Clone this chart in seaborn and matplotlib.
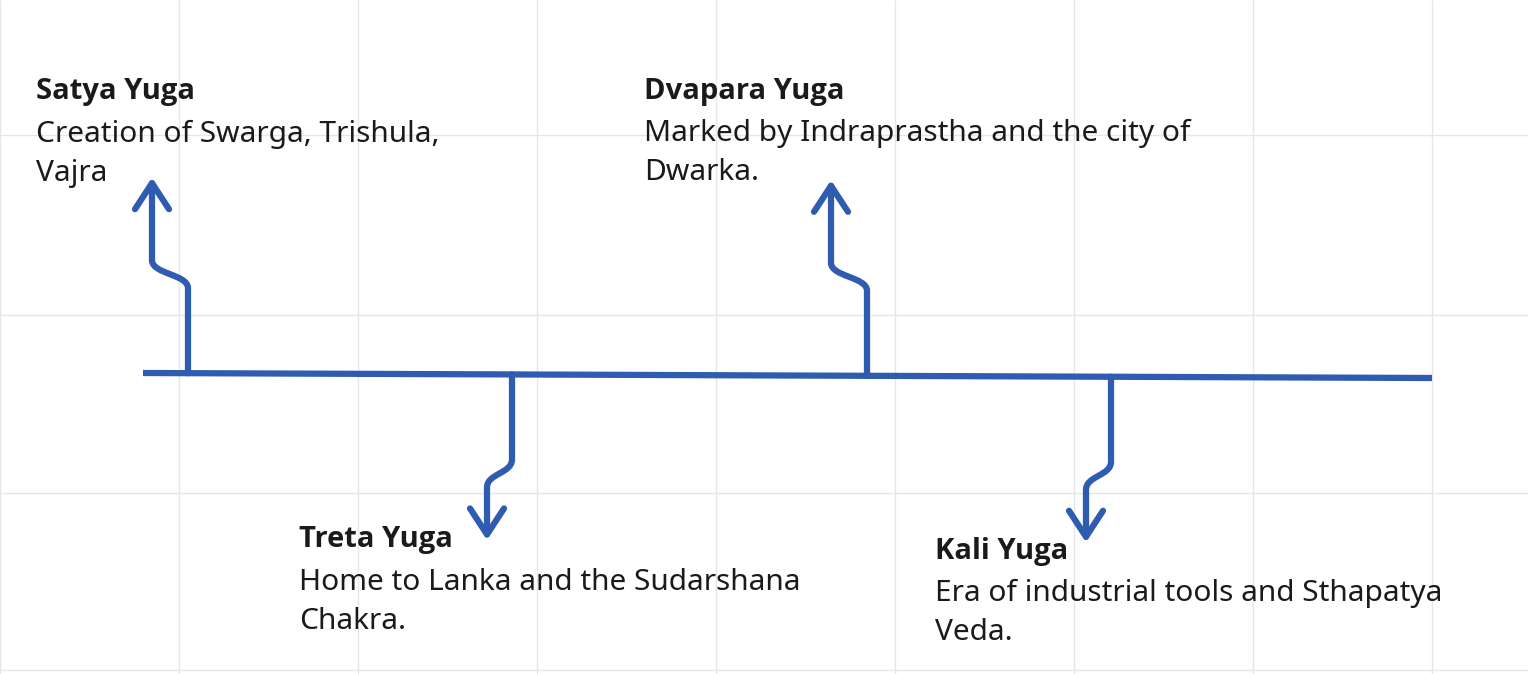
import matplotlib
matplotlib.use("Agg")
import matplotlib.pyplot as plt
import seaborn as sns
from matplotlib.path import Path
from matplotlib.patches import PathPatch

# Timeline events
names = ["Satya Yuga", "Treta Yuga", "Dvapara Yuga", "Kali Yuga"]
descriptions = [
    "Creation of Swarga, Trishula,\nVajra",
    "Home to Lanka and the Sudarshana\nChakra.",
    "Marked by Indraprastha and the city of\nDwarka.",
    "Era of industrial tools and Sthapatya\nVeda.",
]
positions = [188, 512, 867, 1111]      # where each branch leaves the timeline
sides = ["up", "down", "up", "down"]

sns.set_theme(style="white")
plt.rcParams['font.family'] = ['Noto Sans', 'Open Sans', 'DejaVu Sans']

blue = "#2f5bb0"
fig = plt.figure(figsize=(15.28, 6.74), dpi=100)
ax = fig.add_axes([0, 0, 1, 1])
ax.set_xlim(0, 1528)
ax.set_ylim(674, 0)
ax.axis("off")
fig.patch.set_facecolor("white")

# background whiteboard grid
for gx in range(0, 1528, 179):
    ax.axvline(gx, color="#e6e6e6", lw=1, zorder=0)
for gy in [135, 315, 493, 670]:
    ax.axhline(gy, color="#e6e6e6", lw=1, zorder=0)

# main timeline
x0, x1, y0, y1 = 143, 1432, 373, 378
ax.plot([x0, x1], [y0, y1], color=blue, lw=4.5, solid_capstyle="butt", zorder=2)

def line_y(x):
    return y0 + (y1 - y0) * (x - x0) / (x1 - x0)

for name, desc, px, side in zip(names, descriptions, positions, sides):
    base = line_y(px)
    s = -1 if side == "up" else 1
    off = -36 if side == "up" else -25
    bend1 = base + s * 85
    bend2 = bend1 + s * 28
    tip = base + s * (190 if side == "up" else 160)
    verts = [(px, base), (px, bend1),
             (px, bend1 + s * 14), (px + off, bend1 + s * 14), (px + off, bend2),
             (px + off, tip)]
    codes = [Path.MOVETO, Path.LINETO, Path.CURVE4, Path.CURVE4, Path.CURVE4, Path.LINETO]
    ax.add_patch(PathPatch(Path(verts, codes), fill=False, edgecolor=blue, lw=4.5,
                           capstyle="round", joinstyle="round", zorder=2))
    ax.plot([px + off - 17, px + off, px + off + 17],
            [tip - s * 26, tip, tip - s * 26], color=blue, lw=4.5,
            solid_capstyle="round", solid_joinstyle="round", zorder=2)

# labels
label_pos = {"Satya Yuga": (36, 92), "Dvapara Yuga": (644, 91),
             "Treta Yuga": (299, 540), "Kali Yuga": (935, 551)}
for name, desc in zip(names, descriptions):
    tx, ty = label_pos[name]
    ax.text(tx, ty, name, fontsize=21, fontweight="bold", color="#1a1a1a",
            va="center", ha="left", family=['Open Sans', 'DejaVu Sans'])
    ax.text(tx, ty + 28, desc, fontsize=21.5, color="#1a1a1a", va="top", ha="left",
            linespacing=1.45)

fig.savefig("out.png", dpi=100)
